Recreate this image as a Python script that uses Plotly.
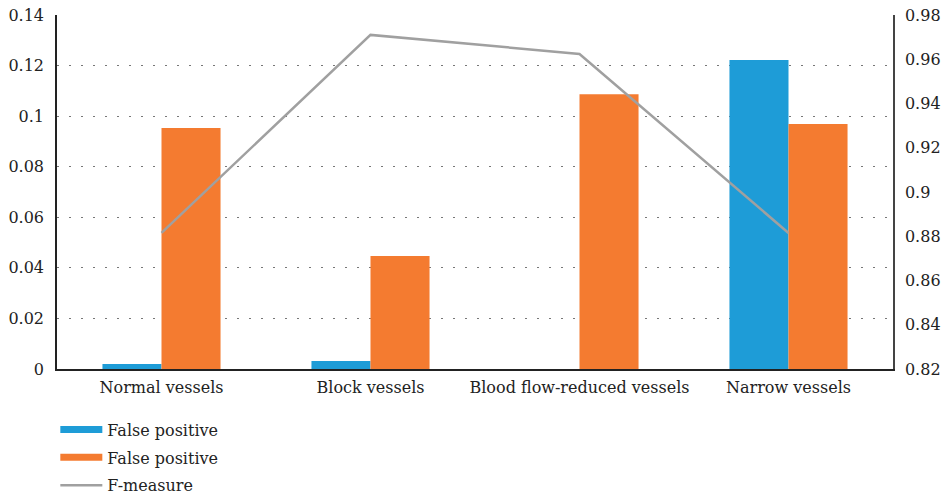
import plotly.graph_objects as go

categories = ["Normal vessels", "Block vessels", "Blood flow-reduced vessels", "Narrow vessels"]
fp_blue = [0.002, 0.0032, 0.0, 0.1222]
fp_orange = [0.0953, 0.0447, 0.1087, 0.0969]
f_measure = [0.8815, 0.971, 0.9624, 0.8815]

FONT = "DejaVu Serif"
BLUE = "#1E9CD7"
ORANGE = "#F47B30"
GRAY = "#A0A0A0"

fig = go.Figure()
fig.add_trace(go.Bar(x=categories, y=fp_blue, name="False positive", showlegend=False,
                     marker=dict(color=BLUE, line=dict(width=0))))
fig.add_trace(go.Bar(x=categories, y=fp_orange, name="False positive", showlegend=False,
                     marker=dict(color=ORANGE, line=dict(width=0))))
fig.add_trace(go.Scatter(x=categories, y=f_measure, name="F-measure", mode="lines",
                         line=dict(color=GRAY, width=2.5), yaxis="y2", showlegend=False))
for i, (nm, col, w) in enumerate([("False positive", BLUE, 7), ("False positive", ORANGE, 7),
                                   ("F-measure", GRAY, 2.5)]):
    fig.add_trace(go.Scatter(x=[None], y=[None], mode="lines", name=nm, legendgroup=f"g{i}",
                             line=dict(color=col, width=w), showlegend=True))

fig.update_layout(
    width=942, height=496,
    margin=dict(l=57, r=49, t=15, b=127, autoexpand=False),
    plot_bgcolor="white", paper_bgcolor="white",
    font=dict(family=FONT, size=16, color="#222222"),
    barmode="group", bargap=0.435, bargroupgap=0,
    showlegend=True,
    legend=dict(x=-0.002, xref="paper", y=0.168, yref="container", yanchor="top",
                xanchor="left", orientation="v", font=dict(size=16),
                itemwidth=42, tracegroupgap=4, bgcolor="rgba(0,0,0,0)"),
    xaxis=dict(showline=True, linecolor="#222222", linewidth=1.5, ticks="",
               showgrid=False, tickfont=dict(size=16), ticklabelstandoff=3,
               automargin=False),
    yaxis=dict(range=[0, 0.14], dtick=0.02, showline=True, linecolor="#222222",
               linewidth=1.5, ticks="", showgrid=True, gridcolor="#777777",
               griddash="2px,10px", gridwidth=1, zeroline=False,
               tickfont=dict(size=16), ticklabelstandoff=8, automargin=False),
    yaxis2=dict(range=[0.82, 0.98], dtick=0.02, overlaying="y", side="right",
                showline=True, linecolor="#444444", linewidth=1.5, ticks="",
                showgrid=False, zeroline=False, tickfont=dict(size=16),
                ticklabelstandoff=7, automargin=False),
)

fig.write_html("out.html", config={"displayModeBar": False},
               post_script="document.body.style.margin='0';document.body.style.overflow='hidden';")
